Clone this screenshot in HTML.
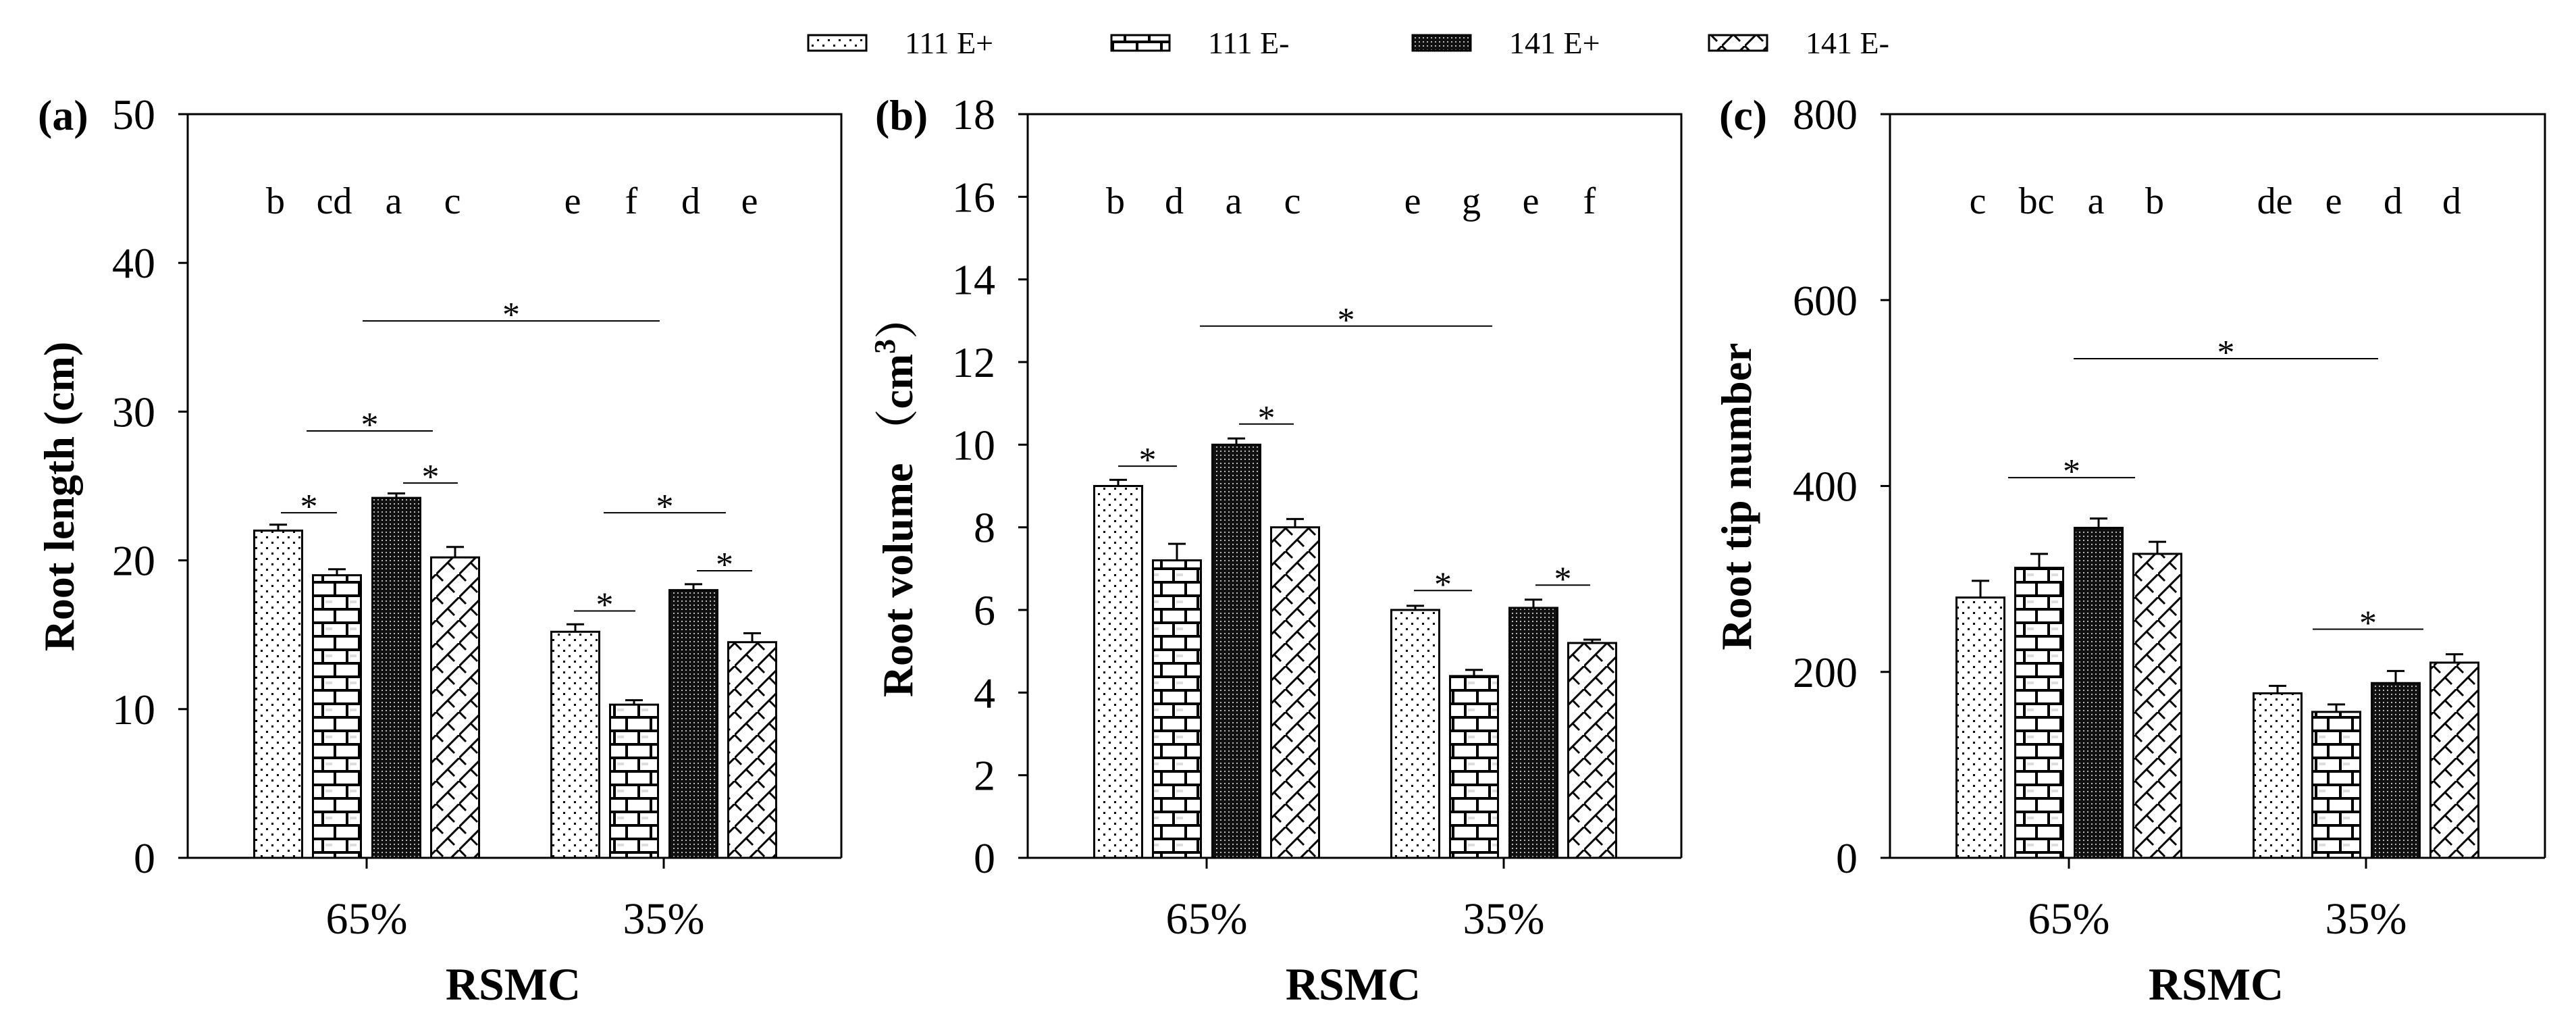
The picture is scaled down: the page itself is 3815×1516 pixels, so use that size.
<!DOCTYPE html>
<html><head><meta charset="utf-8">
<style>
html,body{margin:0;padding:0;background:#fff;}
svg{display:block;font-family:"Liberation Serif","Noto Serif CJK SC",serif;}
</style></head>
<body>
<svg id="fig" width="3815" height="1516" viewBox="0 0 3815 1516" xmlns="http://www.w3.org/2000/svg">
<defs>
  <pattern id="p-dots" patternUnits="userSpaceOnUse" width="16" height="16">
    <rect width="16" height="16" fill="#fff"/>
    <rect x="2" y="2" width="3" height="3" fill="#000"/>
    <rect x="10" y="10" width="3" height="3" fill="#000"/>
  </pattern>
  <pattern id="p-brick" patternUnits="userSpaceOnUse" width="36" height="40">
    <rect width="36" height="40" fill="#fff"/>
    <rect x="0" y="0" width="36" height="4" fill="#000"/>
    <rect x="0" y="20" width="36" height="4" fill="#000"/>
    <rect x="8" y="0" width="4" height="20" fill="#000"/>
    <rect x="26" y="20" width="4" height="20" fill="#000"/>
    <rect x="14" y="9" width="10" height="4" fill="#ddd"/>
  </pattern>
  <pattern id="p-dense" patternUnits="userSpaceOnUse" width="6" height="6">
    <rect width="6" height="6" fill="#111"/>
    <rect x="1" y="1" width="2" height="2" fill="#bbb"/>
  </pattern>
  <pattern id="p-diag" patternUnits="userSpaceOnUse" width="34" height="34">
    <rect width="34" height="34" fill="#fff"/>
    <path d="M0 34 L34 0" stroke="#000" stroke-width="3"/>
    <path d="M0 0 L10 10 M17 17 L27 27" stroke="#000" stroke-width="3"/>
  </pattern>
</defs>
<g id="legend"></g>
<g id="panels"></g>
</svg>
<script>
const seriesNames = ["111 E+", "111 E-", "141 E+", "141 E-"];
const groups = ["65%", "35%"];
const fills = ["url(#p-dots)", "url(#p-brick)", "url(#p-dense)", "url(#p-diag)"];

const aValues = [[22.0, 19.0, 24.2, 20.2], [15.2, 10.3, 18.0, 14.5]];
const aErrors = [[0.4, 0.4, 0.3, 0.7], [0.5, 0.3, 0.4, 0.6]];
const aLetters = [["b", "cd", "a", "c"], ["e", "f", "d", "e"]];
const aTicks = [0, 10, 20, 30, 40, 50];

const bValues = [[9.0, 7.2, 10.0, 8.0], [6.0, 4.4, 6.05, 5.2]];
const bErrors = [[0.15, 0.4, 0.15, 0.2], [0.1, 0.15, 0.2, 0.08]];
const bLetters = [["b", "d", "a", "c"], ["e", "g", "e", "f"]];
const bTicks = [0, 2, 4, 6, 8, 10, 12, 14, 16, 18];

const cValues = [[280, 312, 355, 327], [177, 157, 188, 210]];
const cErrors = [[18, 15, 10, 13], [8, 8, 13, 9]];
const cLetters = [["c", "bc", "a", "b"], ["de", "e", "d", "d"]];
const cTicks = [0, 200, 400, 600, 800];

// significance brackets: [start offset, end offset, value]
const aSig = [[259, 699, 36.1], [176, 363, 28.7], [138, 221, 23.2], [319, 400, 25.2], [616, 797, 23.2], [572, 663, 16.6], [754, 836, 19.3]];
const bSig = [[255, 688, 12.87], [134, 221, 9.48], [313, 394, 10.5], [572, 658, 6.47], [752, 833, 6.6]];
const cSig = [[272, 723, 537], [175, 363, 409], [626, 790, 246]];

const NS = "http://www.w3.org/2000/svg";
function mk(tag, attrs, parent, text) {
  const e = document.createElementNS(NS, tag);
  for (const k in attrs) e.setAttribute(k, attrs[k]);
  if (text !== undefined) e.textContent = text;
  parent.appendChild(e);
  return e;
}

const leg = document.getElementById("legend");
const legX = [1197, 1646, 2092, 2531];
seriesNames.forEach((n, i) => {
  const r = mk("rect", {x: legX[i], y: 52, width: 86, height: 23, fill: fills[i], stroke: "#000", "stroke-width": 3}, leg);
  
  
  const t = mk("text", {x: legX[i] + 143, y: 79, "font-size": 46}, leg, n);
  
  
});

const panels = [
  {id: "a", left: 278, right: 1246, max: 50, values: aValues, errors: aErrors, letters: aLetters, ticks: aTicks, sig: aSig, tagX: 56, titleX: 87, title: "Root length (cm)"},
  {id: "b", left: 1522, right: 2490, max: 18, values: bValues, errors: bErrors, letters: bLetters, ticks: bTicks, sig: bSig, tagX: 1296, titleX: 1329, title: "vol"},
  {id: "c", left: 2799, right: 3769, max: 800, values: cValues, errors: cErrors, letters: cLetters, ticks: cTicks, sig: cSig, tagX: 2546, titleX: 2571, title: "Root tip number"}
];
const TOP = 169, BOT = 1270;
const groupOff = [265, 705];
const barOff = [-131, -44, 44, 131];
const BW = 71;

const host = document.getElementById("panels");
panels.forEach(p => {
  const g = mk("g", {}, host);
  
  
  const y = v => BOT - v / p.max * (BOT - TOP);

  p.values.forEach((grp, gi) => {
    grp.forEach((v, si) => {
      const cx = p.left + groupOff[gi] + barOff[si];
      const b = mk("rect", {x: cx - BW / 2, y: y(v), width: BW, height: BOT - y(v), fill: fills[si], stroke: "#000", "stroke-width": 3}, g);
      
      
      const e = p.errors[gi][si];
      const eb = mk("path", {d: `M${cx} ${y(v)} V${y(v + e)} M${cx - 13} ${y(v + e)} H${cx + 13}`, stroke: "#000", "stroke-width": 3, fill: "none"}, g);
      
      
      const lt = mk("text", {x: cx - 4, y: 316, "font-size": 56, "text-anchor": "middle"}, g, p.letters[gi][si]);
      
      
    });
  });

  p.sig.forEach(s => {
    const yy = y(s[2]);
    const l = mk("line", {x1: p.left + s[0], x2: p.left + s[1], y1: yy, y2: yy, stroke: "#000", "stroke-width": 2}, g);
    
    
    const st = mk("text", {x: p.left + (s[0] + s[1]) / 2, y: yy + 8, "font-size": 52, "text-anchor": "middle"}, g, "*");
    
    
  });

  const fr = mk("path", {d: `M${p.left} ${BOT} V${TOP} H${p.right} V${BOT}`, fill: "none", stroke: "#000", "stroke-width": 3}, g);
  
  
  const xa = mk("line", {x1: p.left - 14, x2: p.right, y1: BOT, y2: BOT, stroke: "#000", "stroke-width": 3}, g);
  
  

  p.ticks.forEach(t => {
    const tk = mk("line", {x1: p.left - 14, x2: p.left, y1: y(t), y2: y(t), stroke: "#000", "stroke-width": 3}, g);
    
    
    const tl = mk("text", {x: p.left - 48, y: y(t) + 22, "font-size": 64, "text-anchor": "end"}, g, String(t));
    
    
  });

  groups.forEach((gn, gi) => {
    const cx = p.left + groupOff[gi];
    const tk = mk("line", {x1: cx, x2: cx, y1: BOT, y2: BOT + 16, stroke: "#000", "stroke-width": 3}, g);
    
    
    const tl = mk("text", {x: cx, y: 1382, "font-size": 66, "text-anchor": "middle"}, g, gn);
    
    
  });

  const xt = mk("text", {x: (p.left + p.right) / 2 - 2, y: 1480, "font-size": 68, "font-weight": "bold", "text-anchor": "middle"}, g, "RSMC");
  
  

  const tag = mk("text", {x: p.tagX, y: 192, "font-size": 64, "font-weight": "bold"}, g, "(" + p.id + ")");
  
  

  const cy = 735;
  const tx = p.titleX + 22;
  const yt = mk("text", {x: tx, y: cy, "font-size": 64, "font-weight": "bold", "text-anchor": "middle", transform: `rotate(-90 ${tx} ${cy})`}, g);
  
  
  if (p.title === "vol") {
    mk("tspan", {}, yt, "Root volume （cm");
    mk("tspan", {dy: -26, "font-size": 44}, yt, "3");
    mk("tspan", {dy: 26}, yt, "）");
  } else {
    yt.textContent = p.title;
  }
});
</script>
</body></html>
